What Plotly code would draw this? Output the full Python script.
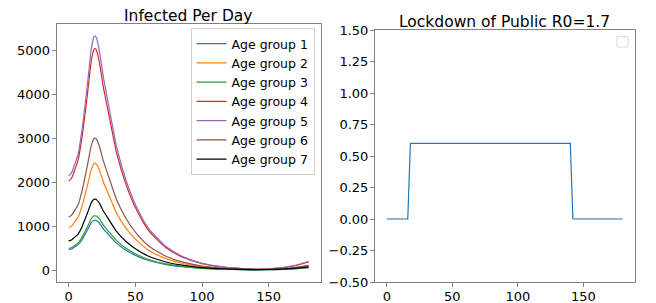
import plotly.graph_objects as go

# the page body has an 8px default margin: lay the figure out so the picture matches
OFF = 8
W, H = 656 - OFF, 303 - OFF

days = [0, 2, 4, 7, 10, 13, 15, 17, 19, 20, 21, 23, 26, 30, 36, 43, 50, 60, 73, 85,
        100, 115, 130, 140, 150, 160, 170, 180]

group1 = [470, 485, 520, 578, 695, 860, 975, 1090, 1140, 1143, 1130, 1075, 945, 810, 612, 455,
          340, 222, 131, 81, 44, 24, 14, 11, 13, 20, 34, 58]
group2 = [975, 1005, 1080, 1200, 1460, 1800, 2050, 2300, 2425, 2432, 2405, 2290, 2010, 1720, 1295,
          955, 710, 455, 265, 160, 84, 44, 24, 18, 21, 33, 58, 100]
group3 = [500, 515, 555, 620, 750, 930, 1055, 1180, 1238, 1241, 1228, 1170, 1030, 885, 670, 500,
          375, 245, 145, 90, 49, 27, 16, 12, 14, 22, 38, 64]
group4 = [2030, 2090, 2240, 2500, 3030, 3740, 4260, 4780, 5030, 5045, 4990, 4740, 4170, 3560, 2660,
          1950, 1430, 905, 515, 305, 152, 76, 38, 27, 33, 56, 108, 190]
group5 = [2150, 2210, 2370, 2640, 3200, 3950, 4500, 5050, 5320, 5330, 5270, 5000, 4400, 3750, 2800,
          2050, 1500, 950, 540, 320, 160, 80, 40, 28, 35, 60, 115, 205]
group6 = [1215, 1250, 1340, 1490, 1810, 2230, 2540, 2850, 3000, 3007, 2975, 2830, 2490, 2130, 1600,
          1180, 870, 555, 320, 192, 98, 50, 26, 19, 22, 36, 64, 112]
group7 = [670, 690, 740, 820, 990, 1220, 1380, 1540, 1615, 1620, 1602, 1530, 1350, 1160, 880, 655,
          490, 320, 190, 117, 63, 35, 20, 15, 18, 28, 48, 80]

series_names = ["Age group 1", "Age group 2", "Age group 3", "Age group 4",
                "Age group 5", "Age group 6", "Age group 7"]
series_values = [group1, group2, group3, group4, group5, group6, group7]
series_colors = ["#1f77b4", "#ff7f0e", "#2ca02c", "#d62728", "#9467bd", "#8c564b", "#000000"]

lock_days = [0, 16, 18, 140, 142, 180]
lock_values = [0, 0, 0.6, 0.6, 0, 0]

x_ticks = [0, 50, 100, 150]
left_y_ticks = [0, 1000, 2000, 3000, 4000, 5000]
right_y_ticks = [-0.5, -0.25, 0, 0.25, 0.5, 0.75, 1.0, 1.25, 1.5]

FONT = "DejaVu Sans"
FRAME = "#808080"

fig = go.Figure()
for name, vals, col in zip(series_names, series_values, series_colors):
    fig.add_trace(go.Scatter(x=days, y=vals, mode="lines", name=name,
                             line=dict(color=col, width=1.2, shape="spline", smoothing=0.6),
                             xaxis="x", yaxis="y"))
fig.add_trace(go.Scatter(x=lock_days, y=lock_values, mode="lines", showlegend=False,
                         line=dict(color="#1f77b4", width=1.2), xaxis="x2", yaxis="y2"))

# panel geometry in screen pixels
L1, R1, T1, B1 = 56.7, 320.7, 24.3, 282.0
L2, R2, T2, B2 = 375.0, 634.5, 30.0, 282.0

def px(x):
    return (x - OFF) / W

def py(y):
    return (H + OFF - y) / H

axis_common = dict(showline=True, mirror=True, linecolor=FRAME, linewidth=1,
                   ticks="outside", ticklen=4, tickcolor=FRAME, showgrid=False,
                   zeroline=False, automargin=False,
                   tickfont=dict(family=FONT, size=13, color="black"))

fig.update_layout(
    width=W, height=H,
    margin=dict(l=0, r=0, t=0, b=0, autoexpand=False),
    paper_bgcolor="white", plot_bgcolor="white",
    font=dict(family=FONT, color="black"),
    xaxis=dict(domain=[px(L1), px(R1)], anchor="y", range=[-9, 189], tickvals=x_ticks,
               ticklabelstandoff=-2, **axis_common),
    yaxis=dict(domain=[py(B1), py(T1)], anchor="x", range=[-266, 5598], tickvals=left_y_ticks,
               ticklabelstandoff=-1, **axis_common),
    xaxis2=dict(domain=[px(L2), px(R2)], anchor="y2", range=[-9, 189], tickvals=x_ticks,
                ticklabelstandoff=-2, **axis_common),
    yaxis2=dict(domain=[py(B2), py(T2)], anchor="x2", range=[-0.5, 1.5], tickvals=right_y_ticks,
                tickformat=".2f", ticklabelstandoff=-1, **axis_common),
    legend=dict(x=px(314.5), y=py(28), xanchor="right", yanchor="top",
                bgcolor="rgba(255,255,255,0.8)", bordercolor="#d0d0d0", borderwidth=1,
                font=dict(family=FONT, size=12.5, color="black"), tracegroupgap=0),
    annotations=[
        dict(text="Infected Per Day", x=px((L1 + R1) / 2), y=py(16), xref="paper", yref="paper",
             xanchor="center", yanchor="middle", showarrow=False,
             font=dict(family=FONT, size=15.5, color="black")),
        dict(text="Lockdown of Public R0=1.7", x=px((L2 + R2) / 2), y=py(21.7), xref="paper", yref="paper",
             xanchor="center", yanchor="middle", showarrow=False,
             font=dict(family=FONT, size=15.5, color="black")),
    ],
    shapes=[
        dict(type="rect", xref="paper", yref="paper", x0=px(617), x1=px(628), y0=py(47), y1=py(36.5),
             line=dict(color="#d8d8d8", width=1), fillcolor="rgba(255,255,255,0.8)"),
    ],
)

fig.write_html("out.html")
